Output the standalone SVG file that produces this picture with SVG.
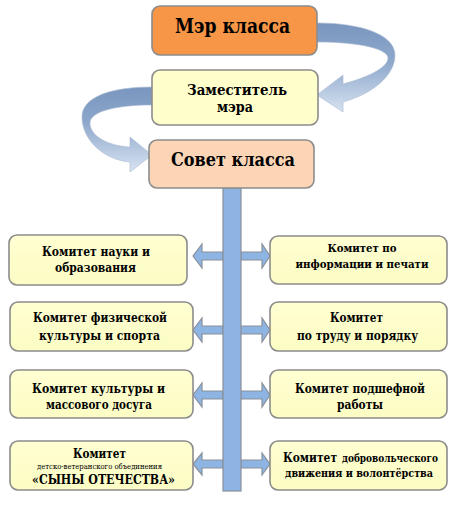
<svg xmlns="http://www.w3.org/2000/svg" width="460" height="505" viewBox="0 0 460 505">
<defs>
<linearGradient id="curveR" x1="0" y1="0" x2="0" y2="1">
<stop offset="0" stop-color="#7B96BE"/>
<stop offset="0.45" stop-color="#8FA9CD"/>
<stop offset="1" stop-color="#D6E2F1"/>
</linearGradient>
<linearGradient id="curveL" x1="0" y1="0" x2="0" y2="1">
<stop offset="0" stop-color="#7B96BE"/>
<stop offset="0.4" stop-color="#8CA6CB"/>
<stop offset="1" stop-color="#D9E4F2"/>
</linearGradient>
<linearGradient id="yel" x1="0" y1="0" x2="0" y2="1">
<stop offset="0" stop-color="#FFFFD2"/>
<stop offset="1" stop-color="#FCFCC4"/>
</linearGradient>
</defs>
<style>
.box{stroke:#8C8C8C;stroke-width:1.6}
.com{fill:url(#yel)}
.t{font-family:"DejaVu Serif Condensed","DejaVu Serif","Noto Serif",serif;font-weight:bold;fill:#000;text-anchor:middle}
.s{text-anchor:start}
.small{font-weight:normal}
.arr{fill:#8DB4E2;stroke:#8A9099;stroke-width:1.2;stroke-linejoin:miter}
.curve{stroke:#A9BAD2;stroke-width:0.6}
</style>
<rect width="460" height="505" fill="#FFFFFF"/>
<g id="connectors">
<path class="curve" fill="url(#curveR)" d="M317,23 C362,23 395,35 395,55 C395,76 372,94 343,102 L343,112 L317,95 L343,75 L343,84 C366,78 388,68 388,58 C388,49 360,42 317,42 Z"/>
<path class="curve" fill="url(#curveL)" d="M152,87 C108,87 82,98 82,117 C82,140 104,160 130,162 L130,172 L152,155 L130,137 L130,147 C108,146 90,136 90,123 C90,112 114,105 152,105 Z"/>
<path class="arr" d="M223,252 L202,252 L202,244 L193,256 L202,268 L202,260 L223,260 Z"/>
<path class="arr" d="M240,252 L262,252 L262,244 L270,256 L262,268 L262,260 L240,260 Z"/>
<path class="arr" d="M223,326 L202,326 L202,318 L193,330 L202,342 L202,334 L223,334 Z"/>
<path class="arr" d="M240,326 L262,326 L262,318 L270,330 L262,342 L262,334 L240,334 Z"/>
<path class="arr" d="M223,391 L202,391 L202,383 L193,395 L202,407 L202,399 L223,399 Z"/>
<path class="arr" d="M240,391 L262,391 L262,383 L270,395 L262,407 L262,399 L240,399 Z"/>
<path class="arr" d="M223,460 L202,460 L202,453 L193,464 L202,475 L202,468 L223,468 Z"/>
<path class="arr" d="M240,460 L262,460 L262,453 L270,464 L262,475 L262,468 L240,468 Z"/>
<rect class="arr" x="223" y="188" width="18" height="303"/>
</g>
<g id="mayor">
<rect class="box" x="152" y="6" width="165" height="49" rx="8" fill="#F79646"/>
<text class="t" x="232.5" y="33" font-size="20.5" textLength="115" lengthAdjust="spacingAndGlyphs">Мэр класса</text>
</g>
<g id="deputy">
<rect class="box" x="152" y="70" width="166" height="55" rx="8" fill="#FFFFCC"/>
<text class="t" x="237" y="95" font-size="14.5" textLength="100" lengthAdjust="spacingAndGlyphs">Заместитель</text>
<text class="t" x="235" y="112" font-size="14.5" textLength="36" lengthAdjust="spacingAndGlyphs">мэра</text>
</g>
<g id="council">
<rect class="box" x="149" y="140" width="165" height="48" rx="8" fill="#FBD5B5"/>
<text class="t" x="233" y="166" font-size="18.5" textLength="124" lengthAdjust="spacingAndGlyphs">Совет класса</text>
</g>
<g id="science">
<rect class="box com" x="9" y="235" width="178" height="50" rx="8"/>
<text class="t" x="96" y="256" font-size="12.7" textLength="108" lengthAdjust="spacingAndGlyphs">Комитет науки и</text>
<text class="t" x="95.5" y="272" font-size="12.7" textLength="81" lengthAdjust="spacingAndGlyphs">образования</text>
</g>
<g id="info">
<rect class="box com" x="270" y="236" width="177" height="48" rx="8"/>
<text class="t" x="362" y="252" font-size="11.8" textLength="69" lengthAdjust="spacingAndGlyphs">Комитет по</text>
<text class="t" x="362" y="268" font-size="11.8" textLength="133" lengthAdjust="spacingAndGlyphs">информации и печати</text>
</g>
<g id="sport">
<rect class="box com" x="10" y="302" width="183" height="49" rx="8"/>
<text class="t" x="100" y="322" font-size="12.7" textLength="134" lengthAdjust="spacingAndGlyphs">Комитет физической</text>
<text class="t" x="99.5" y="340" font-size="12.7" textLength="121" lengthAdjust="spacingAndGlyphs">культуры и спорта</text>
</g>
<g id="labour">
<rect class="box com" x="270" y="302" width="177" height="49" rx="8"/>
<text class="t" x="356.5" y="322" font-size="12.7" textLength="53" lengthAdjust="spacingAndGlyphs">Комитет</text>
<text class="t" x="357.5" y="340" font-size="12.7" textLength="121" lengthAdjust="spacingAndGlyphs">по труду и порядку</text>
</g>
<g id="culture">
<rect class="box com" x="10" y="370" width="183" height="48" rx="8"/>
<text class="t" x="98.5" y="393" font-size="12.7" textLength="133" lengthAdjust="spacingAndGlyphs">Комитет культуры и</text>
<text class="t" x="99" y="408.5" font-size="12.7" textLength="106" lengthAdjust="spacingAndGlyphs">массового досуга</text>
</g>
<g id="patronage">
<rect class="box com" x="270" y="370" width="177" height="48" rx="8"/>
<text class="t" x="360" y="393" font-size="12.7" textLength="130" lengthAdjust="spacingAndGlyphs">Комитет подшефной</text>
<text class="t" x="360" y="409" font-size="12.7" textLength="46" lengthAdjust="spacingAndGlyphs">работы</text>
</g>
<g id="sons">
<rect class="box com" x="10" y="441" width="183" height="49" rx="8"/>
<text class="t" x="99.5" y="458" font-size="12.7" textLength="53" lengthAdjust="spacingAndGlyphs">Комитет</text>
<text class="t small" x="99.5" y="469" font-size="8" textLength="125" lengthAdjust="spacingAndGlyphs">детско-ветеранского объединения</text>
<text class="t" x="103.5" y="484" font-size="12.5" textLength="143" lengthAdjust="spacingAndGlyphs">«СЫНЫ ОТЕЧЕСТВА»</text>
</g>
<g id="volunteer">
<rect class="box com" x="270" y="441" width="177" height="49" rx="8"/>
<text class="t s" x="283" y="462" font-size="12.7" textLength="54" lengthAdjust="spacingAndGlyphs">Комитет</text>
<text class="t s" x="342" y="462" font-size="11" textLength="96" lengthAdjust="spacingAndGlyphs">добровольческого</text>
<text class="t" x="359" y="477" font-size="11" textLength="148" lengthAdjust="spacingAndGlyphs">движения и волонтёрства</text>
</g>
</svg>
